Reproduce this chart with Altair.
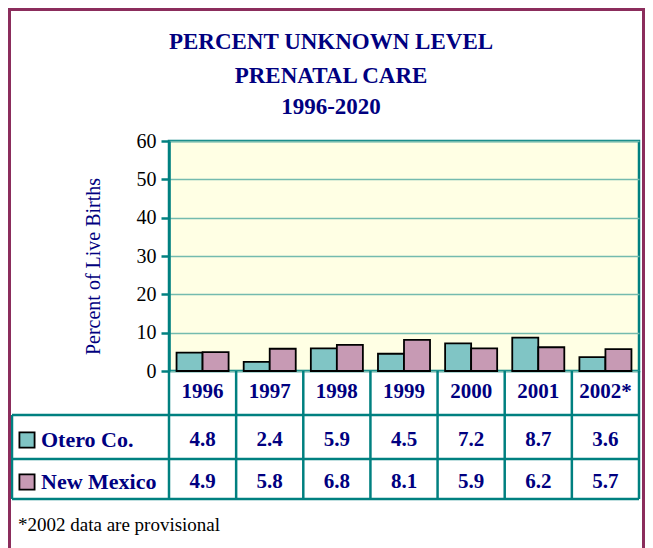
import altair as alt
import pandas as pd

years = ["1996", "1997", "1998", "1999", "2000", "2001", "2002*"]
otero = [4.8, 2.4, 5.9, 4.5, 7.2, 8.7, 3.6]
new_mexico = [4.9, 5.8, 6.8, 8.1, 5.9, 6.2, 5.7]
series = ["Otero Co.", "New Mexico"]
series_colors = ["#80C5C5", "#C79AB4"]
title_lines = ["PERCENT UNKNOWN LEVEL", "PRENATAL CARE", "1996-2020"]
y_ticks = [0, 10, 20, 30, 40, 50, 60]
footnote = "*2002 data are provisional"
y_title = "Percent of Live Births"

df = pd.DataFrame({
    "year": years * 2,
    "series": [series[0]] * len(years) + [series[1]] * len(years),
    "value": otero + new_mexico,
})

W, H = 470, 230
NAVY = "#000080"
TEAL = "#008080"
MAROON = "#8B2D5C"
FONT = "Liberation Serif"
one = pd.DataFrame({"a": [0]})

xscale = alt.Scale(domain=years, paddingInner=0, paddingOuter=0)
X = alt.X("year:N", scale=xscale, axis=None, sort=years)

bars = alt.Chart(df).mark_bar(stroke="black", strokeWidth=1.8).encode(
    x=X,
    xOffset=alt.XOffset("series:N", sort=series,
                        scale=alt.Scale(domain=series, paddingOuter=0.29, paddingInner=0)),
    y=alt.Y("value:Q", scale=alt.Scale(domain=[0, 60]),
            axis=alt.Axis(values=y_ticks, title=y_title, grid=True,
                          gridColor="#74BBAE", gridWidth=1.5,
                          domainColor=TEAL, domainWidth=2.5,
                          tickColor=TEAL, tickWidth=2.5, tickSize=8,
                          labelFont=FONT, labelFontSize=20, labelColor="black",
                          labelPadding=5,
                          titleFont=FONT, titleFontSize=20, titleFontWeight="normal",
                          titleColor=NAVY, titleX=-76, titleY=125,
                          titleAlign="center", titleBaseline="middle", titleAngle=-90)),
    color=alt.Color("series:N", scale=alt.Scale(domain=series, range=series_colors), legend=None),
)

layers = [bars]

# table grid: vertical lines at band boundaries
vlines = alt.Chart(pd.DataFrame({"year": years})).mark_rule(color=TEAL, strokeWidth=2.5).encode(
    x=alt.X("year:N", scale=xscale, axis=None, sort=years, bandPosition=0),
    y=alt.value(H), y2=alt.value(358))
layers.append(vlines)
layers.append(alt.Chart(one).mark_rule(color=TEAL, strokeWidth=2.5).encode(
    x=alt.value(W), y=alt.value(H), y2=alt.value(358)))
layers.append(alt.Chart(one).mark_rule(color=TEAL, strokeWidth=2.5).encode(
    x=alt.value(-157), y=alt.value(274), y2=alt.value(358)))
for yy in [274, 318, 358]:
    layers.append(alt.Chart(one).mark_rule(color=TEAL, strokeWidth=2.5).encode(
        x=alt.value(-157), x2=alt.value(W), y=alt.value(yy)))

# year labels
layers.append(alt.Chart(pd.DataFrame({"year": years})).mark_text(
    font=FONT, fontSize=21, fontWeight="bold", color=NAVY, baseline="middle").encode(
    x=alt.X("year:N", scale=xscale, axis=None, sort=years, bandPosition=0.5),
    y=alt.value(251), text="year:N"))

row_y = [299, 341]
for i, s in enumerate(series):
    sub = df[df["series"] == s]
    layers.append(alt.Chart(sub).mark_text(
        font=FONT, fontSize=21, fontWeight="bold", color=NAVY, baseline="middle").encode(
        x=alt.X("year:N", scale=xscale, axis=None, sort=years, bandPosition=0.5),
        y=alt.value(row_y[i]), text=alt.Text("value:Q", format=".1f")))
    layers.append(alt.Chart(pd.DataFrame({"series": [s]})).mark_text(
        font=FONT, fontSize=22, fontWeight="bold", color=NAVY, align="left",
        baseline="middle").encode(
        x=alt.value(-128), y=alt.value(row_y[i]), text="series:N"))
    layers.append(alt.Chart(pd.DataFrame({"series": [s]})).mark_square(
        size=230, filled=True, opacity=1, fill=series_colors[i], stroke="black",
        strokeWidth=1.8).encode(x=alt.value(-142), y=alt.value(row_y[i])))

# title lines
for line, yy in zip(title_lines, [-99, -65, -34]):
    layers.append(alt.Chart(pd.DataFrame({"t": [line]})).mark_text(
        font=FONT, fontSize=23, fontWeight="bold", color=NAVY, align="center",
        baseline="middle").encode(x=alt.value(162), y=alt.value(yy), text="t:N"))

# footnote
layers.append(alt.Chart(pd.DataFrame({"t": [footnote]})).mark_text(
    font=FONT, fontSize=19, color="black", align="left", baseline="alphabetic").encode(
    x=alt.value(-151), y=alt.value(390), text="t:N"))

# outer frame
for x1, x2, y1, y2 in [(-161, -158, -133, 420), (-161, 476, -133, -130), (473, 476, -133, 420)]:
    layers.append(alt.Chart(one).mark_rect(color=MAROON).encode(
        x=alt.value(x1), x2=alt.value(x2), y=alt.value(y1), y2=alt.value(y2)))

chart = alt.layer(*layers).properties(
    width=W, height=H,
    autosize=alt.AutoSizeParams(type="none"),
    padding={"left": 161, "top": 133, "right": 6, "bottom": 177},
    background="white",
).configure_view(stroke=TEAL, strokeWidth=2.5, fill="#FFFFE4")

chart.save("out.html", embed_options={"renderer": "svg", "actions": False})
